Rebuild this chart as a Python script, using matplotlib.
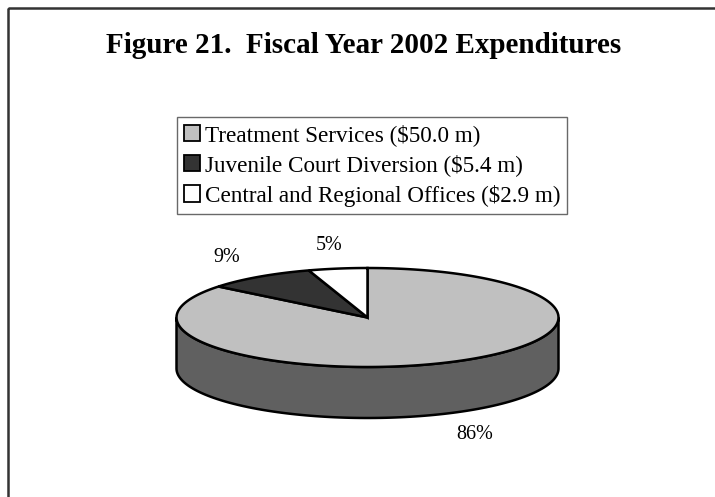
import numpy as np
import matplotlib.pyplot as plt
from matplotlib.patches import Polygon, Rectangle, Patch

plt.rcParams['font.family'] = ['Liberation Serif', 'DejaVu Serif']

# Fiscal year 2002 expenditures, millions of dollars
categories = ['Treatment Services', 'Juvenile Court Diversion', 'Central and Regional Offices']
amounts = [50.0, 5.4, 2.9]
top_colors = ['#c0c0c0', '#333333', '#ffffff']
side_colors = ['#606060', '#1a1a1a', '#bfbfbf']

fig = plt.figure(figsize=(7.15, 4.97), dpi=100)
ax = fig.add_axes([0, 0, 1, 1])
ax.set_xlim(0, 715)
ax.set_ylim(497, 0)
ax.axis('off')

# chart area border (runs off the right and bottom)
ax.add_patch(Rectangle((8, 8), 800, 600, fill=False, edgecolor='#333333', lw=1.8))

ax.text(364, 53, 'Figure 21.  Fiscal Year 2002 Expenditures', ha='center', va='baseline',
        fontsize=21, fontweight='bold')

# 3-D pie: top ellipse, angles clockwise from 12 o'clock
cx, cy, a, b, depth = 367.5, 317.5, 191, 49.5, 51


def rim(theta, dz=0):
    t = np.radians(theta)
    return np.column_stack([cx + a * np.sin(t), cy - b * np.cos(t) + dz])


fracs = np.array(amounts) / sum(amounts)
edges = np.concatenate([[0], np.cumsum(fracs) * 360])

# front wall (visible from 90 to 270 degrees)
for i in range(len(amounts)):
    lo, hi = max(edges[i], 90), min(edges[i + 1], 270)
    if hi <= lo:
        continue
    t = np.linspace(lo, hi, 120)
    pts = np.vstack([rim(t), rim(t[::-1], depth)])
    ax.add_patch(Polygon(pts, closed=True, facecolor=side_colors[i], edgecolor='black', lw=1.8))

# top face wedges
for i in range(len(amounts)):
    t = np.linspace(edges[i], edges[i + 1], 200)
    pts = np.vstack([[cx, cy], rim(t)])
    ax.add_patch(Polygon(pts, closed=True, facecolor=top_colors[i], edgecolor='black', lw=1.8))

# percentage labels
for i in range(len(amounts)):
    mid = np.radians((edges[i] + edges[i + 1]) / 2)
    lx = cx + 1.3 * a * np.sin(mid)
    ly = cy - 1.48 * b * np.cos(mid)
    if np.cos(mid) < 0:
        ly += depth
    ax.text(lx, ly, f'{fracs[i] * 100:.0f}%', ha='center', va='center', fontsize=14.5)

handles = [Patch(facecolor=c, edgecolor='black', lw=1.3) for c in top_colors]
labels = [f'{n} (${v:.1f} m)' for n, v in zip(categories, amounts)]
leg = ax.legend(handles, labels, loc='upper left', bbox_to_anchor=(177, 117),
                bbox_transform=ax.transData, fontsize=16.7, frameon=True, fancybox=False,
                edgecolor='#444444', borderaxespad=0, borderpad=0.3, handlelength=0.7,
                handleheight=0.7, handletextpad=0.2, labelspacing=0.36)
leg.get_frame().set_linewidth(1.0)

fig.savefig('out.png', dpi=100)
